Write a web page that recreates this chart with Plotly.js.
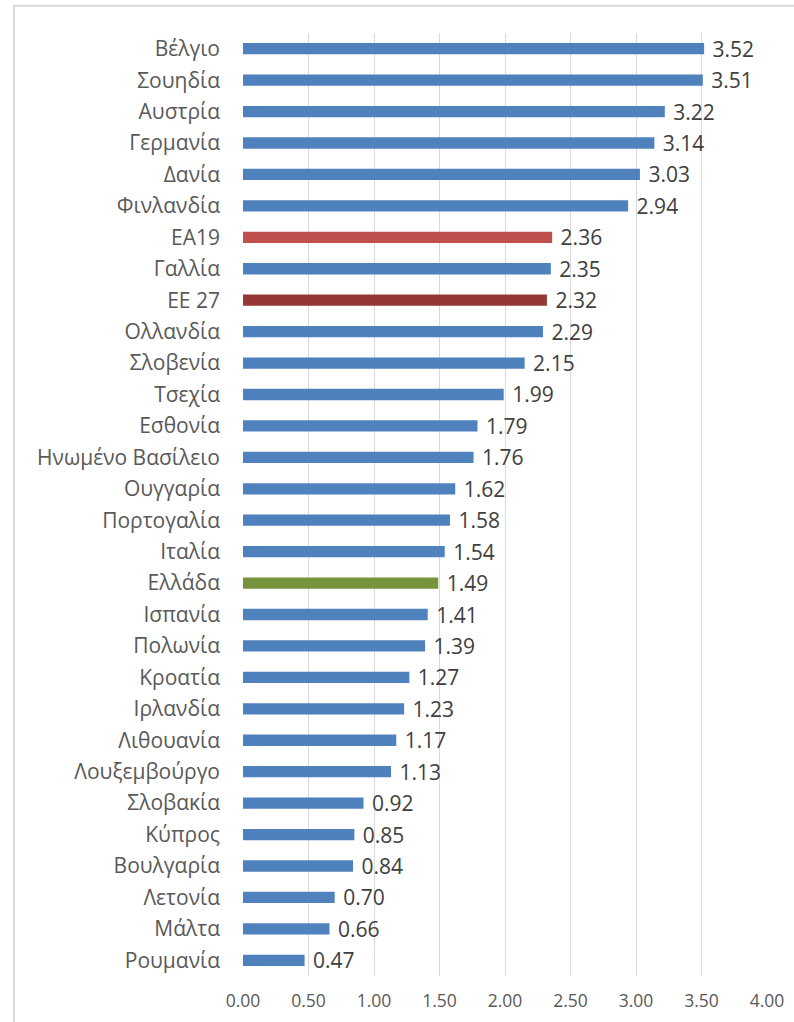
<!DOCTYPE html>
<html><head><meta charset="utf-8">
<script src="https://cdn.plot.ly/plotly-3.0.1.min.js"></script>
<style>body{margin:0;background:#fff}#chart{width:794px;height:1022px}</style>
</head><body><div id="chart"></div>
<script>
const categories = ["Βέλγιο","Σουηδία","Αυστρία","Γερμανία","Δανία","Φινλανδία","ΕΑ19","Γαλλία","ΕΕ 27","Ολλανδία","Σλοβενία","Τσεχία","Εσθονία","Ηνωμένο Βασίλειο","Ουγγαρία","Πορτογαλία","Ιταλία","Ελλάδα","Ισπανία","Πολωνία","Κροατία","Ιρλανδία","Λιθουανία","Λουξεμβούργο","Σλοβακία","Κύπρος","Βουλγαρία","Λετονία","Μάλτα","Ρουμανία"];
const values = [3.52,3.51,3.22,3.14,3.03,2.94,2.36,2.35,2.32,2.29,2.15,1.99,1.79,1.76,1.62,1.58,1.54,1.49,1.41,1.39,1.27,1.23,1.17,1.13,0.92,0.85,0.84,0.70,0.66,0.47];
const tickVals = [0,0.5,1,1.5,2,2.5,3,3.5,4];
const tickLabels = ["0.00","0.50","1.00","1.50","2.00","2.50","3.00","3.50","4.00"];
const colorMap = {"ΕΑ19":"#C0504D","ΕΕ 27":"#953735","Ελλάδα":"#77933C"};
const colors = categories.map(c => colorMap[c] || "#4F81BD");

const trace = {
  type: "bar", orientation: "h",
  x: values, y: categories,
  marker: {color: colors},
  text: values.map(v => "\u00a0" + v.toFixed(2)),
  textposition: "outside", cliponaxis: false, constraintext: "none",
  textfont: {family: "Open Sans, sans-serif", size: 21, color: "#404040"},
  hoverinfo: "none"
};
const layout = {
  width: 794, height: 1022,
  margin: {l: 243, r: 27, t: 33, b: 46},
  paper_bgcolor: "#fff", plot_bgcolor: "#fff",
  bargap: 0.64,
  showlegend: false,
  xaxis: {range: [0, 4], tickvals: tickVals, ticktext: tickLabels, showgrid: true,
    gridcolor: "#D9D9D9", gridwidth: 1, zeroline: false, showline: false, ticks: "",
    ticklabelstandoff: 12,
    tickfont: {family: "Open Sans, sans-serif", size: 17.5, color: "#595959"}, fixedrange: true},
  yaxis: {autorange: "reversed", ticks: "", showline: false, showgrid: false,
    ticklabelstandoff: 22,
    tickfont: {family: "Open Sans, sans-serif", size: 21, color: "#595959"}, fixedrange: true},
  shapes: [{type: "rect", xref: "paper", yref: "paper", x0: -0.437, x1: 1.06, y0: -0.06, y1: 1.029,
    line: {color: "#D9D9D9", width: 2}, fillcolor: "rgba(0,0,0,0)"}]
};
Plotly.newPlot("chart", [trace], layout, {displayModeBar: false, staticPlot: true});
</script></body></html>
